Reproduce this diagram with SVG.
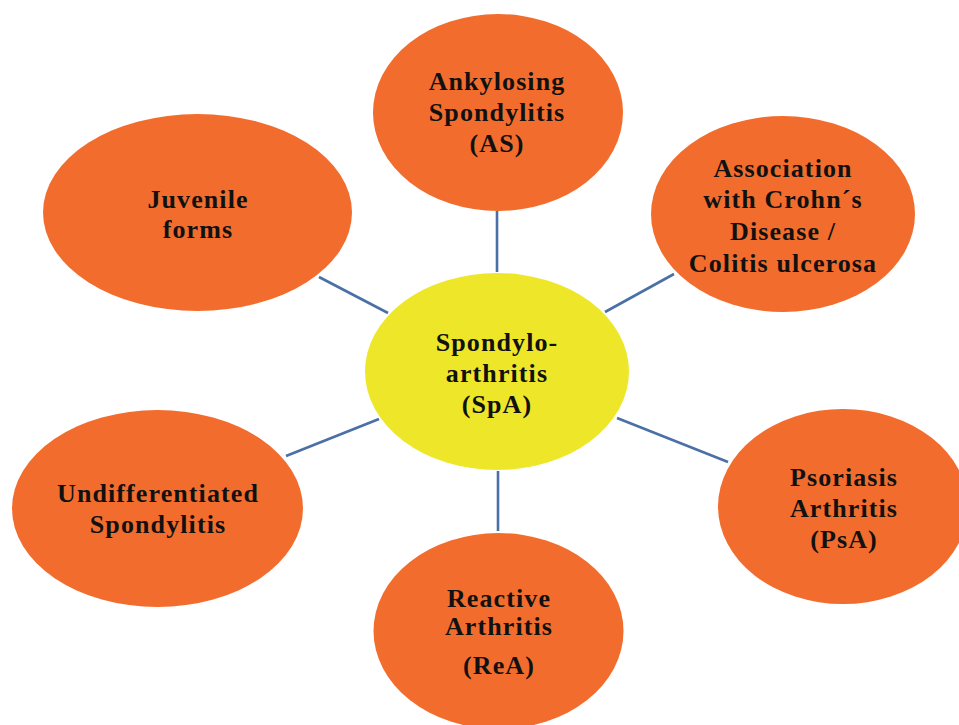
<svg xmlns="http://www.w3.org/2000/svg" width="959" height="725" viewBox="0 0 959 725">
<style>
.n{fill:#f26d2d}
.c{fill:#eee729}
.t{font-family:"Liberation Serif","Times New Roman",serif;font-weight:bold;font-size:26px;letter-spacing:1.1px;fill:#111;text-anchor:middle}
.e{stroke:#4a70a6;stroke-width:2.6;fill:none}
</style>
<rect width="959" height="725" fill="#fff"/>
<g id="connectors">
<line class="e" x1="497" y1="211" x2="497" y2="272"/>
<line class="e" x1="319" y1="277" x2="388" y2="313"/>
<line class="e" x1="605" y1="312" x2="674" y2="274"/>
<line class="e" x1="286" y1="456" x2="379" y2="419"/>
<line class="e" x1="617" y1="418" x2="728" y2="462"/>
<line class="e" x1="498" y1="471" x2="498" y2="531"/>
</g>
<g id="as">
<ellipse class="n" cx="498" cy="112.5" rx="125" ry="98.5"/>
<text class="t" x="497" y="90">Ankylosing</text>
<text class="t" x="497" y="121">Spondylitis</text>
<text class="t" x="497" y="152">(AS)</text>
</g>
<g id="crohn">
<ellipse class="n" cx="783" cy="214" rx="132" ry="98"/>
<text class="t" x="783" y="177">Association</text>
<text class="t" x="783" y="208">with Crohn´s</text>
<text class="t" x="783" y="240">Disease /</text>
<text class="t" x="783" y="272">Colitis ulcerosa</text>
</g>
<g id="juvenile">
<ellipse class="n" cx="197.5" cy="212.5" rx="154.5" ry="98.5"/>
<text class="t" x="198" y="208">Juvenile</text>
<text class="t" x="198" y="238">forms</text>
</g>
<g id="spa">
<ellipse class="c" cx="497" cy="371.5" rx="132" ry="98.5"/>
<text class="t" x="497" y="351">Spondylo-</text>
<text class="t" x="497" y="382">arthritis</text>
<text class="t" x="497" y="413">(SpA)</text>
</g>
<g id="undiff">
<ellipse class="n" cx="157.5" cy="508.5" rx="145.5" ry="98.5"/>
<text class="t" x="158" y="502">Undifferentiated</text>
<text class="t" x="158" y="533">Spondylitis</text>
</g>
<g id="psa">
<ellipse class="n" cx="843" cy="506.5" rx="125" ry="97.5"/>
<text class="t" x="844" y="486">Psoriasis</text>
<text class="t" x="844" y="517">Arthritis</text>
<text class="t" x="844" y="548">(PsA)</text>
</g>
<g id="rea">
<ellipse class="n" cx="498.5" cy="631" rx="125" ry="98"/>
<text class="t" x="499" y="607">Reactive</text>
<text class="t" x="499" y="635">Arthritis</text>
<text class="t" x="499" y="674">(ReA)</text>
</g>
</svg>
